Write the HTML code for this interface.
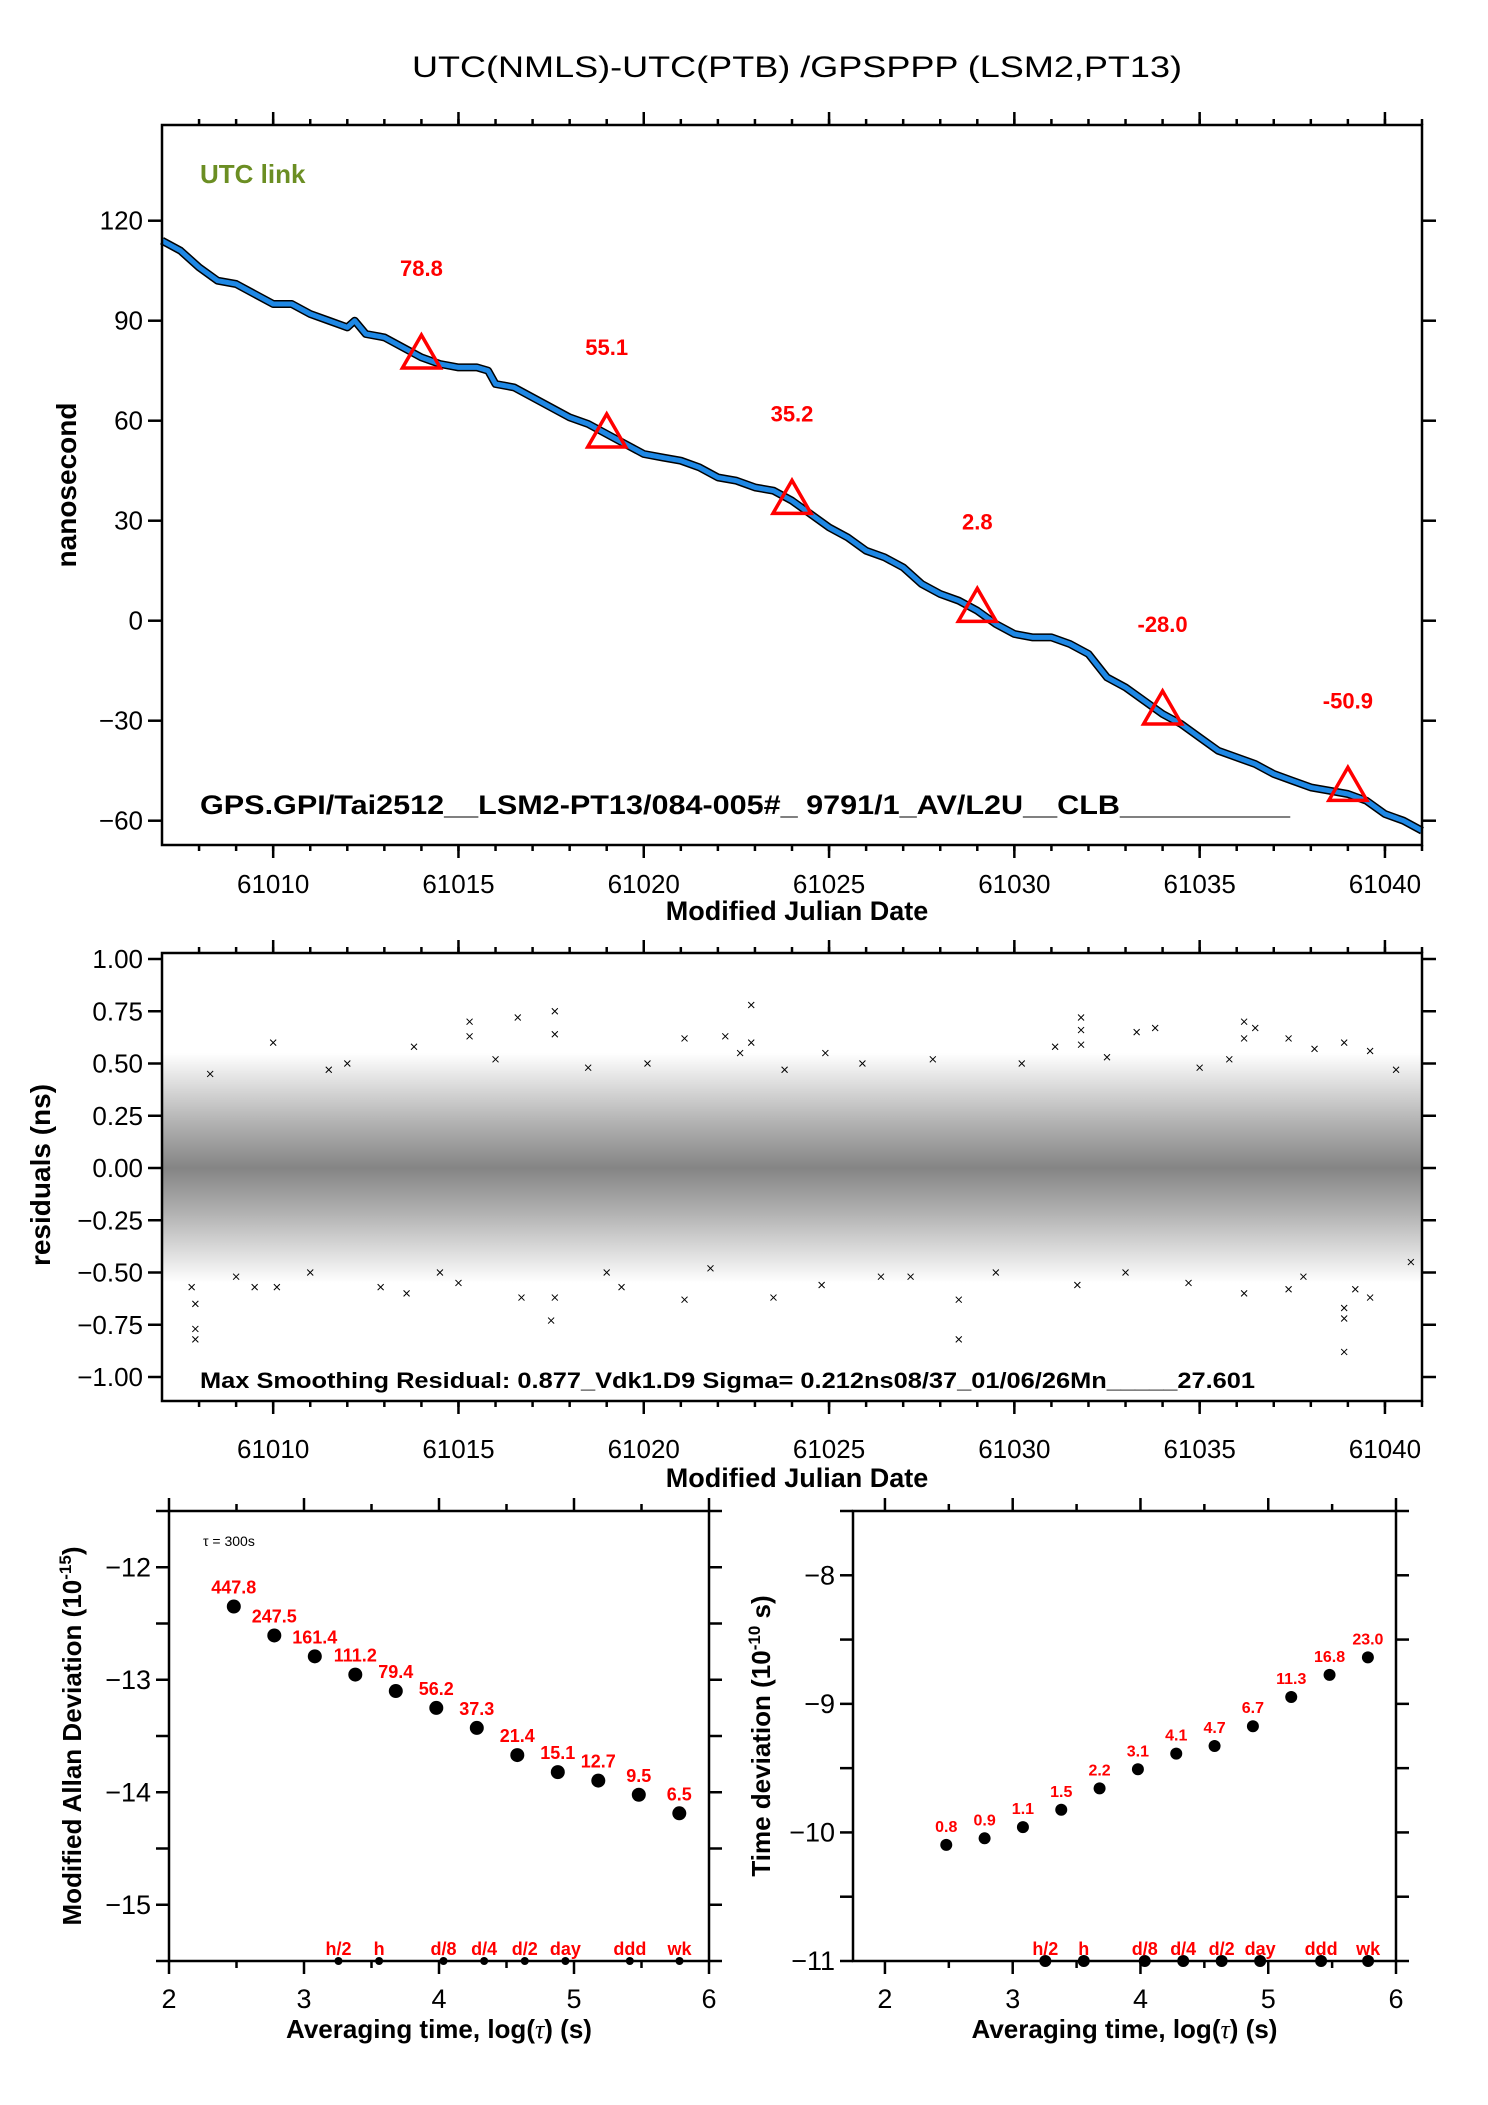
<!DOCTYPE html>
<html><head><meta charset="utf-8"><style>
html,body{margin:0;padding:0;background:#fff}
svg{display:block;font-family:"Liberation Sans",Arial,sans-serif}
</style></head><body>
<svg id="fig" width="1488" height="2105" viewBox="0 0 1488 2105" xmlns="http://www.w3.org/2000/svg">
<defs>
<linearGradient id="band" x1="0" y1="0" x2="0" y2="1">
<stop offset="0" stop-color="#000" stop-opacity="0"/>
<stop offset="0.15" stop-color="#000" stop-opacity="0.15"/>
<stop offset="0.3" stop-color="#000" stop-opacity="0.3"/>
<stop offset="0.5" stop-color="#000" stop-opacity="0.48"/>
<stop offset="0.7" stop-color="#000" stop-opacity="0.3"/>
<stop offset="0.85" stop-color="#000" stop-opacity="0.15"/>
<stop offset="1" stop-color="#000" stop-opacity="0"/>
</linearGradient>
</defs>
<text x="797" y="77" font-size="30" text-anchor="middle" textLength="770" lengthAdjust="spacingAndGlyphs">UTC(NMLS)-UTC(PTB)  /GPSPPP  (LSM2,PT13)</text>
<g id="top"></g>
<g id="mid"></g>
<g id="bl"></g>
<g id="br"></g>
</svg>
<script>
// ---- data ----
const topMjd = [61007,61007.5,61008,61008.5,61009,61009.5,61010,61010.5,61011,61011.5,61012,61012.2,61012.5,61013,61013.5,61014,61014.5,61015,61015.5,61015.8,61016,61016.5,61017,61017.5,61018,61018.5,61019,61019.5,61020,61020.5,61021,61021.5,61022,61022.5,61023,61023.5,61024,61024.5,61025,61025.5,61026,61026.5,61027,61027.5,61028,61028.5,61029,61029.5,61030,61030.5,61031,61031.5,61032,61032.5,61033,61033.5,61034,61034.5,61035,61035.5,61036,61036.5,61037,61037.5,61038,61038.5,61039,61039.5,61040,61040.5,61041];
const topNs = [114,111,106,102,101,98,95,95,92,90,88,90,86,85,82,79,77,76,76,75,71,70,67,64,61,59,56,53,50,49,48,46,43,42,40,39,36,32,28,25,21,19,16,11,8,6,3,-1,-4,-5,-5,-7,-10,-17,-20,-24,-28,-31,-35,-39,-41,-43,-46,-48,-50,-51,-52,-54,-58,-60,-63];
const triMjd = [61014,61019,61024,61029,61034,61039];
const triVal = [78.8,55.1,35.2,2.8,-28.0,-50.9];
const resMjd = [61007.8,61007.9,61007.9,61007.9,61010,61013.8,61013.6,61015.3,61015.3,61016.6,61017.6,61017.6,61017.5,61017.6,61016.7,61021.1,61021.1,61022.2,61022.6,61022.9,61022.9,61023.5,61024.8,61028.5,61028.5,61031.8,61031.8,61031.8,61033.3,61033.8,61031.1,61036.2,61036.2,61036.5,61037.4,61037.4,61038.9,61038.9,61038.9,61038.9,61039.2,61039.6,61039.6,61038.1,61036.2,61015,61019.4,61012.9,61009.5,61010.1,61026.4,61024.9,61031.7,61034.7,61020.1,61030.2,61008.3,61011,61012,61014.5,61016,61018.5,61021.8,61023.8,61025.9,61027.2,61029.5,61032.5,61035,61037.8,61040.3,61040.7,61009,61011.5,61019,61027.8,61033,61035.8];
const resVal = [-0.57,-0.65,-0.77,-0.82,0.6,0.58,-0.6,0.7,0.63,0.72,0.75,0.64,-0.73,-0.62,-0.62,0.62,-0.63,0.63,0.55,0.78,0.6,-0.62,-0.56,-0.82,-0.63,0.72,0.66,0.59,0.65,0.67,0.58,0.7,0.62,0.67,0.62,-0.58,0.6,-0.67,-0.72,-0.88,-0.58,-0.62,0.56,0.57,-0.6,-0.55,-0.57,-0.57,-0.57,-0.57,-0.52,0.55,-0.56,-0.55,0.5,0.5,0.45,-0.5,0.5,-0.5,0.52,0.48,-0.48,0.47,0.5,-0.52,-0.5,0.53,0.48,-0.52,0.47,-0.45,-0.52,0.47,-0.5,0.52,-0.5,0.52];
const logTau = [2.48,2.78,3.08,3.38,3.68,3.98,4.28,4.58,4.88,5.18,5.48,5.78];
const mdevVals = [447.8,247.5,161.4,111.2,79.4,56.2,37.3,21.4,15.1,12.7,9.5,6.5];
const tdevVals = [0.8,0.9,1.1,1.5,2.2,3.1,4.1,4.7,6.7,11.3,16.8,23.0];
const markNames = ["h/2","h","d/8","d/4","d/2","day","ddd","wk"];
const markSecs = [1800,3600,10800,21600,43200,86400,259200,604800];

const NS="http://www.w3.org/2000/svg";
function mk(parent,tag,attrs,text){const e=document.createElementNS(NS,tag);for(const k in attrs)e.setAttribute(k,attrs[k]);if(text!==undefined)e.textContent=text;parent.appendChild(e);return e;}
function lin(d0,d1,r0,r1){return v=>r0+(v-d0)*(r1-r0)/(d1-d0);}
function fmt(v,dec){let s=v.toFixed(dec);return s.replace('-','\u2212');}

function frame(g,x0,y0,x1,y1){
  const r=mk(g,'rect',{x:x0,y:y0,width:x1-x0,height:y1-y0,fill:'none',stroke:'#000','stroke-width':2.5});
  
  
}
function xTicks(g,sx,y0,y1,vals,len,labels,labelY,fs){
  vals.forEach((v,i)=>{
    const x=sx(v);
    const t1=mk(g,'line',{x1:x,x2:x,y1:y0,y2:y0-len,stroke:'#000','stroke-width':2.5});
    
    
    const t2=mk(g,'line',{x1:x,x2:x,y1:y1,y2:y1+len,stroke:'#000','stroke-width':2.5});
    
    
    if(labels){
      const t=mk(g,'text',{x:x,y:labelY,'font-size':fs,'text-anchor':'middle'},labels[i]);
      
      
    }
  });
}
function yTicks(g,sy,x0,x1,vals,len,labels,fs,leftTicks){
  vals.forEach((v,i)=>{
    const y=sy(v);
    if(leftTicks!==false){
      const t1=mk(g,'line',{x1:x0,x2:x0-len,y1:y,y2:y,stroke:'#000','stroke-width':2.5});
      
      
    }
    const t2=mk(g,'line',{x1:x1,x2:x1+len,y1:y,y2:y,stroke:'#000','stroke-width':2.5});
    
    
    if(labels && labels[i]!==null){
      const t=mk(g,'text',{x:x0-len-5,y:y+9,'font-size':fs,'text-anchor':'end'},labels[i]);
      
      
    }
  });
}
function range(a,b,s){const r=[];for(let v=a;v<=b+1e-9;v+=s)r.push(+v.toFixed(6));return r;}

// ---- top plot ----
(function(){
  const g=document.getElementById('top');
  const X0=162,X1=1422,Y0=125,Y1=845;
  const sx=lin(61007,61041,X0,X1), sy=lin(120,-60,220.7,820.7);
  const t=mk(g,'text',{x:200,y:183,'font-size':26,'font-weight':'bold',fill:'#6b8e23'},'UTC link');
  
  
  const pts=topMjd.map((m,i)=>sx(m).toFixed(1)+','+sy(topNs[i]).toFixed(1)).join(' ');
  const l1=mk(g,'polyline',{points:pts,fill:'none',stroke:'#000','stroke-width':8,'stroke-linejoin':'round'});
  
  
  const l2=mk(g,'polyline',{points:pts,fill:'none',stroke:'#1e88e5','stroke-width':5,'stroke-linejoin':'round'});
  
  
  triMjd.forEach((m,i)=>{
    const x=sx(m),y=sy(triVal[i]);
    const p=mk(g,'polygon',{points:`${x},${y-23} ${x-19},${y+10} ${x+19},${y+10}`,fill:'none',stroke:'#f00','stroke-width':3.5});
    
    
    const tl=mk(g,'text',{x:x,y:y-82,'font-size':22,'font-weight':'bold',fill:'#f00','text-anchor':'middle'},triVal[i].toFixed(1));
    
    
  });
  const gt=mk(g,'text',{x:200,y:814,'font-size':27,'font-weight':'bold',textLength:1090,lengthAdjust:'spacingAndGlyphs'},'GPS.GPI/Tai2512__LSM2-PT13/084-005#_  9791/1_AV/L2U__CLB__________');
  
  
  frame(g,X0,Y0,X1,Y1);
  xTicks(g,sx,Y0,Y1,range(61008,61041,1),6);
  const maj=range(61010,61040,5);
  xTicks(g,sx,Y0,Y1,maj,13,maj.map(String),893,26);
  const yv=range(-60,120,30);
  yTicks(g,sy,X0,X1,yv,14,yv.map(v=>fmt(v,0)),26);
  const xt=mk(g,'text',{x:797,y:920,'font-size':27,'font-weight':'bold','text-anchor':'middle'},'Modified Julian Date');
  
  
  const yt=mk(g,'text',{x:0,y:0,'font-size':28,'font-weight':'bold','text-anchor':'middle',transform:'translate(76,485) rotate(-90)'},'nanosecond');
  
  
})();

// ---- residuals plot ----
(function(){
  const g=document.getElementById('mid');
  const X0=162,X1=1422,Y0=953,Y1=1401;
  const sx=lin(61007,61041,X0,X1), sy=lin(1,-1,959,1377);
  const b=mk(g,'rect',{x:X0,y:sy(0.55),width:X1-X0,height:sy(-0.55)-sy(0.55),fill:'url(#band)'});
  
  
  resMjd.forEach((m,i)=>{
    const x=sx(m),y=sy(resVal[i]);
    const p=mk(g,'path',{d:`M${x-3},${y-3}L${x+3},${y+3}M${x-3},${y+3}L${x+3},${y-3}`,stroke:'#000','stroke-width':1});
    
    
  });
  const gt=mk(g,'text',{x:200,y:1388,'font-size':22,'font-weight':'bold',textLength:1055,lengthAdjust:'spacingAndGlyphs'},'Max Smoothing Residual: 0.877_Vdk1.D9  Sigma= 0.212ns08/37_01/06/26Mn_____27.601');
  
  
  frame(g,X0,Y0,X1,Y1);
  xTicks(g,sx,Y0,Y1,range(61008,61041,1),6);
  const maj=range(61010,61040,5);
  xTicks(g,sx,Y0,Y1,maj,13,maj.map(String),1458,26);
  const yv=range(-1,1,0.25);
  yTicks(g,sy,X0,X1,yv,14,yv.map(v=>fmt(v,2)),26);
  const xt=mk(g,'text',{x:797,y:1487,'font-size':27,'font-weight':'bold','text-anchor':'middle'},'Modified Julian Date');
  
  
  const yt=mk(g,'text',{x:0,y:0,'font-size':28,'font-weight':'bold','text-anchor':'middle',transform:'translate(50,1175) rotate(-90)'},'residuals (ns)');
  
  
})();

// ---- stability panels ----
function stab(id,X0,X1,xd0,xd1,yd0,yd1,vals,scale,yMaj,yStep,dotR,markR,labFs,titleParts,titleX){
  const g=document.getElementById(id);
  const Y0=1511,Y1=1961;
  const sx=lin(xd0,xd1,X0,X1), sy=lin(yd0,yd1,Y0,Y1);
  frame(g,X0,Y0,X1,Y1);
  const xm=range(2,6,0.5).filter(v=>v>=xd0-1e-9&&v<=xd1+1e-9);
  xTicks(g,sx,Y0,Y1,xm.filter(v=>v%1!==0),7);
  const xi=range(2,6,1);
  xTicks(g,sx,Y0,Y1,xi,13,xi.map(String),2008,27);
  yTicks(g,sy,X0,X1,range(yd1,yd0,yStep).filter(v=>yMaj.indexOf(v)<0),13,null,27);
  yTicks(g,sy,X0,X1,yMaj,13,yMaj.map(v=>fmt(v,0)),27);
  logTau.forEach((lt,i)=>{
    const x=sx(lt),y=sy(Math.log10(vals[i]*scale));
    const c=mk(g,'circle',{cx:x,cy:y,r:dotR,fill:'#000'});
    
    
    const t=mk(g,'text',{x:x,y:y-13,'font-size':labFs,'font-weight':'bold',fill:'#f00','text-anchor':'middle'},vals[i].toFixed(1));
    
    
  });
  markSecs.forEach((s,i)=>{
    const x=sx(Math.log10(s));
    const c=mk(g,'circle',{cx:x,cy:Y1,r:markR,fill:'#000'});
    
    
    const t=mk(g,'text',{x:x,y:1955,'font-size':18,'font-weight':'bold',fill:'#f00','text-anchor':'middle'},markNames[i]);
    
    
  });
  const xt=mk(g,'text',{x:(X0+X1)/2,y:2038,'font-size':26,'font-weight':'bold','text-anchor':'middle'});
  
  
  xt.appendChild(document.createTextNode('Averaging time, log('));
  mk(xt,'tspan',{'font-weight':'normal','font-family':'"Liberation Serif",serif','font-style':'italic'},'\u03c4');
  xt.appendChild(document.createTextNode(') (s)'));
  const yt=mk(g,'text',{x:0,y:0,'font-size':26,'font-weight':'bold','text-anchor':'middle',transform:`translate(${titleX},1736) rotate(-90)`});
  
  
  yt.appendChild(document.createTextNode(titleParts[0]));
  mk(yt,'tspan',{'font-size':17,'dy':-10},titleParts[1]);
  mk(yt,'tspan',{'dy':10},titleParts[2]);
  return g;
}
const gl=stab('bl',169,709,2,6,-11.5,-15.5,mdevVals,1e-15,[-12,-13,-14,-15],0.5,7,4,18,['Modified Allan Deviation (10','-15',')'],81);
const tt=mk(gl,'text',{x:203,y:1546,'font-size':14});


tt.textContent='\u03c4 = 300s';
stab('br',853,1396,1.75,6,-7.5,-11,tdevVals,1e-10,[-8,-9,-10,-11],0.5,6,6,16,['Time deviation (10','-10',' s)'],770);
</script>
</body></html>
